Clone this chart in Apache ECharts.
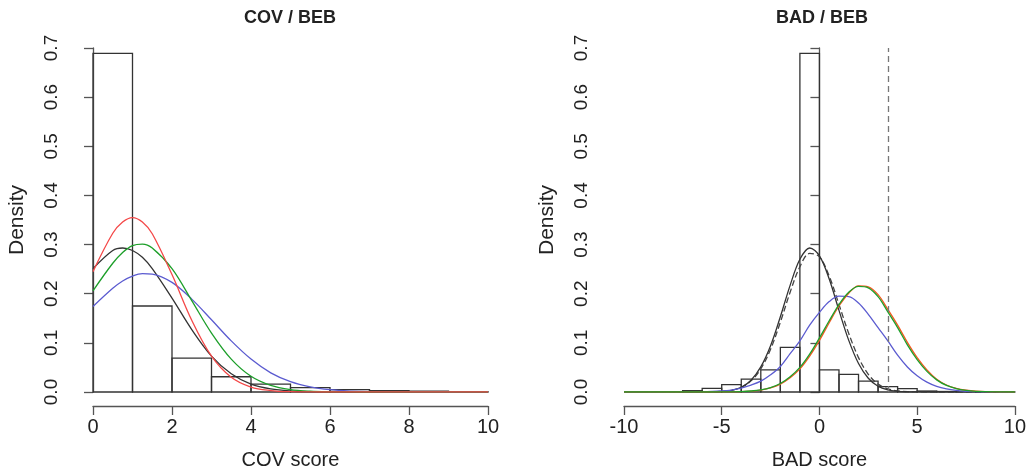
<!DOCTYPE html>
<html>
<head>
<meta charset="utf-8">
<script src="https://cdn.jsdelivr.net/npm/echarts@6/dist/echarts.min.js"></script>
<style>
  html, body { margin: 0; background: #fff; }
  #chart { width: 1029px; height: 475px; }
</style>
</head>
<body>
<div id="chart"></div>
<script>
// left panel: COV score histogram (bins of width 1) + fitted curves
var covBins = [0, 1, 2, 3, 4, 5, 6, 7, 8, 9];
var covDensity = [0.689, 0.175, 0.069, 0.031, 0.016, 0.009, 0.005, 0.003, 0.0015, 0.0007];
var covX = [0, 0.5, 0.75, 1, 1.25, 1.5, 2, 2.5, 3, 3.5, 4, 4.5, 5, 5.5, 6, 6.5, 7, 8, 10];
var covBlack = [0.251, 0.288, 0.293, 0.288, 0.274, 0.251, 0.191, 0.127, 0.073, 0.037, 0.016, 0.0062, 0.002, 0.0006, 0.0002, 0, 0, 0, 0];
var covBlue = [0.174, 0.211, 0.226, 0.236, 0.241, 0.240, 0.223, 0.189, 0.147, 0.104, 0.067, 0.039, 0.021, 0.0104, 0.0047, 0.0019, 0.0007, 0.0001, 0];
var covGreen = [0.206, 0.262, 0.284, 0.298, 0.301, 0.293, 0.251, 0.186, 0.120, 0.067, 0.032, 0.0135, 0.005, 0.0016, 0.0004, 0.0001, 0, 0, 0];
var covRed = [0.245, 0.323, 0.346, 0.355, 0.346, 0.322, 0.239, 0.146, 0.073, 0.030, 0.010, 0.003, 0.0006, 0.0001, 0, 0, 0, 0, 0];

// right panel: BAD score histogram + fitted curves
var badBins = [-10, -9, -8, -7, -6, -5, -4, -3, -2, -1, 0, 1, 2, 3, 4, 5, 6, 7, 8, 9];
var badDensity = [0, 0.0001, 0.0005, 0.003, 0.0075, 0.015, 0.026, 0.045, 0.091, 0.689, 0.045, 0.036, 0.022, 0.011, 0.007, 0.002, 0.001, 0.0005, 0.0002, 0.0001];
var badX = [-10, -7, -6, -5, -4.5, -4, -3.5, -3, -2.5, -2, -1.5, -1, -0.5, 0, 0.5, 1, 1.5, 2, 2.5, 3, 3.5, 4, 4.5, 5, 5.5, 6, 6.5, 7, 7.5, 8, 9, 10];
var badBlack = [0, 0, 0.0001, 0.0011, 0.0035, 0.0097, 0.024, 0.051, 0.094, 0.153, 0.217, 0.270, 0.293, 0.277, 0.230, 0.166, 0.105, 0.058, 0.028, 0.0117, 0.0043, 0.0014, 0.0004, 0.0001, 0, 0, 0, 0, 0, 0, 0, 0];
var badBlackDash = [0, 0, 0.0001, 0.0012, 0.0034, 0.0095, 0.0226, 0.047, 0.087, 0.142, 0.203, 0.255, 0.282, 0.275, 0.236, 0.178, 0.119, 0.070, 0.036, 0.016, 0.0065, 0.0022, 0.0007, 0.0002, 0, 0, 0, 0, 0, 0, 0, 0];
var badBlue = [0, 0.0001, 0.0004, 0.002, 0.004, 0.008, 0.014, 0.022, 0.035, 0.052, 0.078, 0.104, 0.136, 0.162, 0.184, 0.195, 0.194, 0.181, 0.158, 0.131, 0.104, 0.075, 0.051, 0.033, 0.020, 0.0114, 0.0062, 0.0031, 0.0015, 0.0007, 0.0001, 0];
var badGreen = [0, 0, 0, 0.0001, 0.0003, 0.0008, 0.002, 0.0044, 0.0091, 0.0173, 0.031, 0.050, 0.077, 0.110, 0.145, 0.178, 0.203, 0.215, 0.212, 0.194, 0.163, 0.131, 0.096, 0.066, 0.042, 0.0247, 0.0133, 0.0069, 0.0033, 0.0014, 0.0002, 0];
var badRed = [0, 0, 0, 0.0001, 0.0003, 0.0007, 0.0018, 0.0040, 0.0083, 0.016, 0.029, 0.047, 0.073, 0.105, 0.141, 0.175, 0.201, 0.216, 0.214, 0.198, 0.168, 0.136, 0.101, 0.070, 0.045, 0.026, 0.0142, 0.0074, 0.0036, 0.0016, 0.0002, 0];
var badCutoff = 3.5;

var yTicks = [0, 0.1, 0.2, 0.3, 0.4, 0.5, 0.6, 0.7];

var font = '"Liberation Sans", Arial, sans-serif';
var axisGray = '#555';

var myChart = echarts.init(document.getElementById('chart'));

function histItem(params, api) {
  var p0 = api.coord([api.value(0), api.value(2)]);
  var p1 = api.coord([api.value(1), 0]);
  return {
    type: 'rect',
    shape: { x: p0[0], y: p0[1], width: p1[0] - p0[0], height: p1[1] - p0[1] },
    style: { fill: 'none', stroke: '#333', lineWidth: 1.3 }
  };
}

function pairs(xs, ys) {
  return xs.map(function (x, i) { return [x, ys[i]]; });
}

function curve(idx, xs, ys, color, dashed) {
  return {
    type: 'line',
    xAxisIndex: idx,
    yAxisIndex: idx,
    data: pairs(xs, ys),
    showSymbol: false,
    smooth: 0.35,
    silent: true,
    lineStyle: { color: color, width: 1.3, type: dashed ? [6, 3] : 'solid' }
  };
}

function makeX(idx, min, max, step, name) {
  return {
    type: 'value', gridIndex: idx, min: min, max: max, interval: step,
    offset: 14,
    name: name, nameLocation: 'middle', nameGap: 44,
    nameTextStyle: { fontFamily: font, fontSize: 20, color: '#222' },
    axisLine: { show: true, onZero: false, lineStyle: { color: axisGray, width: 1.3 } },
    axisTick: { show: true, length: 9, lineStyle: { color: axisGray, width: 1.3 } },
    axisLabel: { fontFamily: font, fontSize: 20, color: '#222', margin: 11, showMinLabel: true, showMaxLabel: true },
    splitLine: { show: false }
  };
}

function makeY(idx, off) {
  return {
    type: 'value', gridIndex: idx, min: yTicks[0], max: yTicks[yTicks.length - 1], interval: 0.1,
    offset: off,
    name: 'Density', nameLocation: 'middle', nameGap: 50, nameRotate: 90,
    nameTextStyle: { fontFamily: font, fontSize: 21, color: '#222' },
    axisLine: { show: true, lineStyle: { color: axisGray, width: 1.3 } },
    axisTick: { show: true, length: 9, lineStyle: { color: axisGray, width: 1.3 } },
    axisLabel: {
      fontFamily: font, fontSize: 19, color: '#222', margin: 17, rotate: 90,
      formatter: function (v) { return v.toFixed(1); }
    },
    splitLine: { show: false }
  };
}

var option = {
  animation: false,
  backgroundColor: '#fff',
  graphic: [
    { type: 'text', x: 290, y: 18, style: { text: 'COV / BEB', font: 'bold 18px ' + font, fill: '#222', textAlign: 'center', textVerticalAlign: 'middle' } },
    { type: 'text', x: 822, y: 18, style: { text: 'BAD / BEB', font: 'bold 18px ' + font, fill: '#222', textAlign: 'center', textVerticalAlign: 'middle' } }
  ],
  grid: [
    { left: 93, top: 48, width: 395, height: 345 },
    { left: 624, top: 48, width: 394, height: 345 }
  ],
  xAxis: [makeX(0, 0, 10, 2, 'COV score'), makeX(1, -10, 10, 5, 'BAD score')],
  yAxis: [makeY(0, 15), makeY(1, 16)],
  series: [
    {
      type: 'custom', xAxisIndex: 0, yAxisIndex: 0, silent: true,
      renderItem: histItem, encode: { x: [0, 1], y: 2 },
      data: covBins.map(function (x0, i) { return [x0, x0 + 1, covDensity[i]]; })
    },
    curve(0, covX, covBlack, '#333'),
    curve(0, covX, covBlue, '#5b5bd0'),
    curve(0, covX, covGreen, '#1d9f2a'),
    curve(0, covX, covRed, '#f44848'),
    {
      type: 'custom', xAxisIndex: 1, yAxisIndex: 1, silent: true,
      renderItem: histItem, encode: { x: [0, 1], y: 2 },
      data: badBins.map(function (x0, i) { return [x0, x0 + 1, badDensity[i]]; }),
      markLine: {
        symbol: 'none', silent: true, label: { show: false },
        lineStyle: { color: '#777', width: 1.3, type: [6, 4] },
        data: [{ xAxis: badCutoff }]
      }
    },
    curve(1, badX, badBlackDash, '#444', true),
    curve(1, badX, badBlack, '#333'),
    curve(1, badX, badBlue, '#5b5bd0'),
    curve(1, badX, badRed, '#f4581e'),
    curve(1, badX, badGreen, '#1d9f2a')
  ]
};

myChart.setOption(option);
</script>
</body>
</html>
